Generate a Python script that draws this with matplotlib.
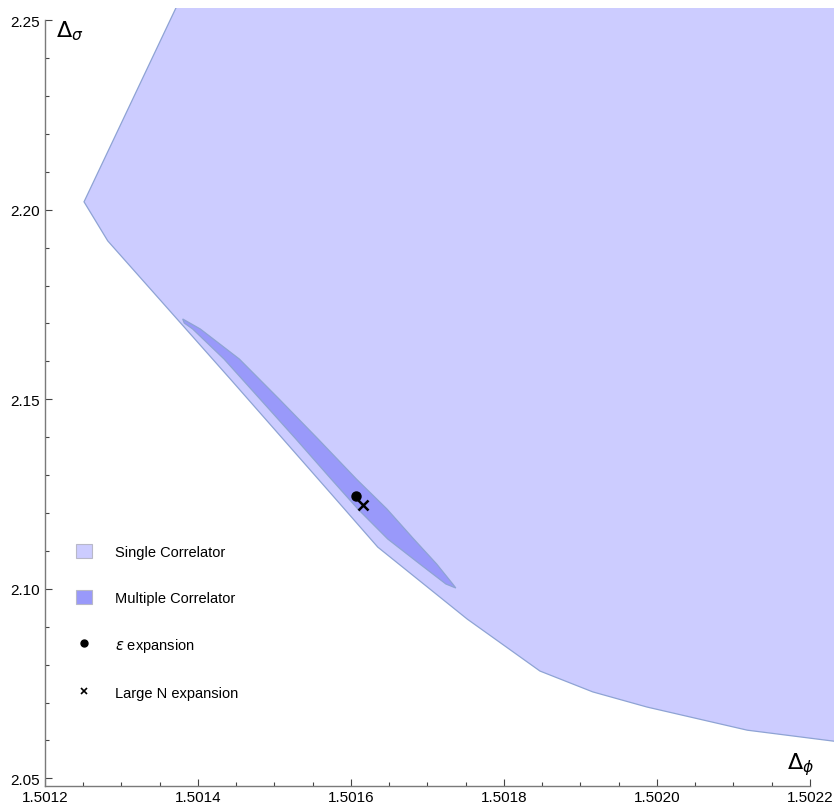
import matplotlib
matplotlib.use("Agg")
import matplotlib.pyplot as plt
from matplotlib.patches import Patch
from matplotlib.lines import Line2D
from matplotlib.ticker import MultipleLocator, FormatStrFormatter

plt.rcParams['font.family'] = ['Liberation Sans', 'DejaVu Sans']

# single correlator allowed region (boundary, clipped by the axes on top/right)
single_x = [1.501387, 1.501251, 1.501282, 1.501442, 1.501573, 1.501635, 1.501752,
            1.501847, 1.501916, 1.501987, 1.502118, 1.502231, 1.5023, 1.5023]
single_y = [2.2600, 2.2021, 2.1918, 2.1554, 2.1253, 2.1110, 2.0920,
            2.0783, 2.0728, 2.0688, 2.0627, 2.0598, 2.0581, 2.2600]

# multiple correlator island (upper edge, then lower edge back)
multi_x = [1.501380, 1.501403, 1.501454, 1.501506, 1.501557, 1.501607, 1.501647,
           1.501682, 1.501712, 1.501733, 1.501737, 1.501724, 1.501690, 1.501648,
           1.501609, 1.501574, 1.501528, 1.501481, 1.501434, 1.501393, 1.501382]
multi_y = [2.17119, 2.16855, 2.16063, 2.15008, 2.13952, 2.12897, 2.12105,
           2.11314, 2.10654, 2.10127, 2.10021, 2.10127, 2.10654, 2.11314,
           2.12105, 2.12897, 2.13952, 2.15008, 2.16063, 2.16855, 2.17013]

eps_point = (1.5016065, 2.12456)
largeN_point = (1.5016153, 2.1221)

labels = ['Single Correlator', 'Multiple Correlator', r'$\epsilon$ expansion', 'Large N expansion']

fig = plt.figure(figsize=(8.34, 8.04), dpi=100)
ax = fig.add_axes([45/834, 17/804, 789/834, 778/804])

edge = '#8ea3d4'
ax.fill(single_x, single_y, facecolor='#ccccff', edgecolor=edge, lw=0.9)
ax.fill(multi_x, multi_y, facecolor='#9999fa', edgecolor=edge, lw=0.9)
ax.plot(*eps_point, 'o', color='black', ms=6.5)
ax.plot(*largeN_point, 'x', color='black', ms=7, mew=1.8)

ax.set_xlim(1.5012, 1.5022314)
ax.set_ylim(2.04797, 2.25324)

ax.spines['top'].set_visible(False)
ax.spines['right'].set_visible(False)
for s in ['left', 'bottom']:
    ax.spines[s].set_color('#7a7a7a')
    ax.spines[s].set_linewidth(1.0)
ax.spines['left'].set_bounds(2.04797, 2.25)
ax.spines['bottom'].set_bounds(1.5012, 1.5022)

ax.xaxis.set_major_locator(MultipleLocator(0.0002))
ax.xaxis.set_minor_locator(MultipleLocator(0.00005))
ax.yaxis.set_major_locator(MultipleLocator(0.05))
ax.yaxis.set_minor_locator(MultipleLocator(0.01))
ax.xaxis.set_major_formatter(FormatStrFormatter('%.4f'))
ax.yaxis.set_major_formatter(FormatStrFormatter('%.2f'))
ax.tick_params(which='both', direction='in', color='#444444', width=0.8, labelsize=11)
ax.tick_params(which='major', length=5)
ax.tick_params(which='minor', length=3)
ax.tick_params(axis='y', pad=3.6)
ax.tick_params(axis='x', pad=3.0)

ax.text(0.014, 0.986, r'$\Delta_\sigma$', transform=ax.transAxes, ha='left', va='top', fontsize=16)
ax.text(0.975, 0.012, r'$\Delta_\phi$', transform=ax.transAxes, ha='right', va='bottom', fontsize=16)

handles = [Patch(facecolor='#ccccff', edgecolor='#b8b8c8', lw=0.8),
           Patch(facecolor='#9999fa', edgecolor='#b8b8c8', lw=0.8),
           Line2D([], [], ls='none', marker='o', color='black', ms=5),
           Line2D([], [], ls='none', marker='x', color='black', ms=4.5, mew=1.2)]
fig.legend(handles, labels, loc='upper left', bbox_to_anchor=(76/834, 1 - 545/804),
           frameon=False, fontsize=10.5, handlelength=1.1, handleheight=1.1,
           handletextpad=1.6, labelspacing=2.13, borderpad=0, borderaxespad=0)

fig.savefig('out.png', dpi=100)
